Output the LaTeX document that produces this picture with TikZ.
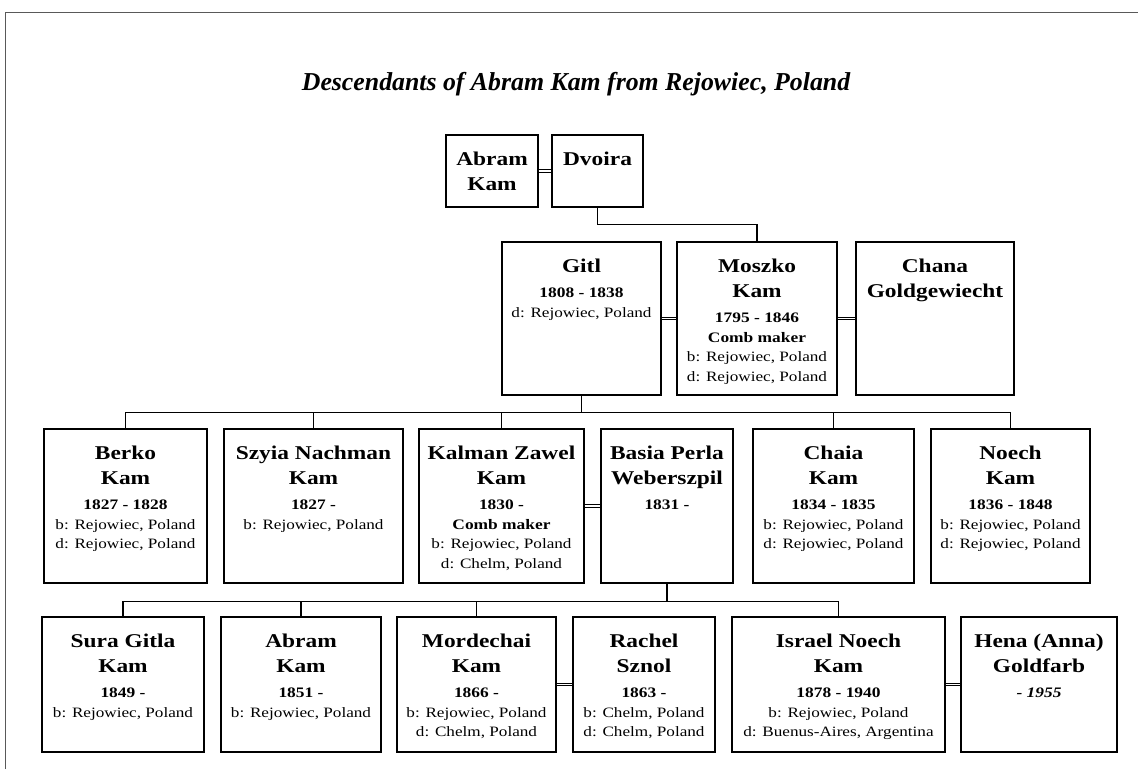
\documentclass[tikz,border=0pt]{standalone}
\usepackage{fontspec}
\usetikzlibrary{calc}
\setmainfont{Liberation Serif}
\newfontfamily\boxfont[FakeStretch=1.2]{Liberation Serif}
\newcommand\nm[1]{{\fontsize{19.5}{19.5}\selectfont\bfseries #1}}
\newcommand\dt[1]{{\fontsize{14.5}{19.5}\selectfont\bfseries #1}}
\newcommand\st{\rule{0pt}{20pt}}
\newcommand\pbox[6]{%
  \node[pbox, minimum width={#4-#2}, minimum height={#5-#3}] (#1) at ({(#2+#4)/2},{(#3+#5)/2}) {};
  \node[ptext] (#1-t) at ([yshift=-11pt]#1.north) {\st #6};
}
\tikzset{
  pbox/.style={draw, line width=1.2pt, inner sep=0pt, rectangle},
  ptext/.style={anchor=north, align=center, inner sep=0pt, font=\boxfont\fontsize{14.3}{19.5}\selectfont},
  link/.style={line width=1.2pt},
  wed/.style={double, line width=1.1pt, double distance=1.6pt},
  frame/.style={line width=0.8pt, black!65}
}
\begin{document}
\begin{tikzpicture}[x=1pt,y=-1pt]
\useasboundingbox (0,0) rectangle (1138,769);
\coordinate (fa) at (5,769);
\coordinate (fb) at (5,12);
\coordinate (fc) at (1138,12);
\draw[frame] (fa) -- (fb) -- (fc);

\node[anchor=base, font=\fontsize{25.8}{30}\selectfont\bfseries\itshape] (title) at (576,90) {Descendants of Abram Kam from Rejowiec, Poland};

% generation 1
\pbox{abramA}{446}{135}{538}{207}{\nm{Abram}\\[5.5pt]\nm{Kam}}
\pbox{dvoira}{552}{135}{643}{207}{\nm{Dvoira}}
% generation 2
\pbox{gitl}{502}{242}{661}{395}{\nm{Gitl}\\[5.5pt]\dt{1808 - 1838}\\d: Rejowiec, Poland}
\pbox{moszko}{677}{242}{837}{395}{\nm{Moszko}\\[5.5pt]\nm{Kam}\\[5.5pt]\dt{1795 - 1846}\\\dt{Comb maker}\\b: Rejowiec, Poland\\d: Rejowiec, Poland}
\pbox{chana}{856}{242}{1014}{395}{\nm{Chana}\\[5.5pt]\nm{Goldgewiecht}}
% generation 3
\pbox{berko}{44}{429}{207}{583}{\nm{Berko}\\[5.5pt]\nm{Kam}\\[5.5pt]\dt{1827 - 1828}\\b: Rejowiec, Poland\\d: Rejowiec, Poland}
\pbox{szyia}{224}{429}{403}{583}{\nm{Szyia Nachman}\\[5.5pt]\nm{Kam}\\[5.5pt]\dt{1827 -}\\b: Rejowiec, Poland}
\pbox{kalman}{419}{429}{584}{583}{\nm{Kalman Zawel}\\[5.5pt]\nm{Kam}\\[5.5pt]\dt{1830 -}\\\dt{Comb maker}\\b: Rejowiec, Poland\\d: Chelm, Poland}
\pbox{basia}{601}{429}{733}{583}{\nm{Basia Perla}\\[5.5pt]\nm{Weberszpil}\\[5.5pt]\dt{1831 -}}
\pbox{chaia}{753}{429}{914}{583}{\nm{Chaia}\\[5.5pt]\nm{Kam}\\[5.5pt]\dt{1834 - 1835}\\b: Rejowiec, Poland\\d: Rejowiec, Poland}
\pbox{noech}{931}{429}{1090}{583}{\nm{Noech}\\[5.5pt]\nm{Kam}\\[5.5pt]\dt{1836 - 1848}\\b: Rejowiec, Poland\\d: Rejowiec, Poland}
% generation 4
\pbox{sura}{42}{617}{204}{752}{\nm{Sura Gitla}\\[5.5pt]\nm{Kam}\\[5.5pt]\dt{1849 -}\\b: Rejowiec, Poland}
\pbox{abramB}{221}{617}{381}{752}{\nm{Abram}\\[5.5pt]\nm{Kam}\\[5.5pt]\dt{1851 -}\\b: Rejowiec, Poland}
\pbox{mordechai}{397}{617}{556}{752}{\nm{Mordechai}\\[5.5pt]\nm{Kam}\\[5.5pt]\dt{1866 -}\\b: Rejowiec, Poland\\d: Chelm, Poland}
\pbox{rachel}{573}{617}{715}{752}{\nm{Rachel}\\[5.5pt]\nm{Sznol}\\[5.5pt]\dt{1863 -}\\b: Chelm, Poland\\d: Chelm, Poland}
\pbox{israel}{732}{617}{945}{752}{\nm{Israel Noech}\\[5.5pt]\nm{Kam}\\[5.5pt]\dt{1878 - 1940}\\b: Rejowiec, Poland\\d: Buenus-Aires, Argentina}
\pbox{hena}{961}{617}{1117}{752}{\nm{Hena (Anna)}\\[5.5pt]\nm{Goldfarb}\\[5.5pt]{\fontsize{14.5}{19.5}\selectfont\bfseries\itshape - 1955}}

% marriages
\draw[wed] (abramA.east) -- (dvoira.west);
\draw[wed] (gitl.east) -- (moszko.west);
\draw[wed] (moszko.east) -- (chana.west);
\draw[wed] (kalman.east) -- (basia.west);
\draw[wed] (mordechai.east) -- (rachel.west);
\draw[wed] (israel.east) -- (hena.west);

% descent
\draw[link] (dvoira.south) -- ++(0,17) -| (moszko.north);
\coordinate (busA) at ($(gitl.south)+(0,17)$);
\draw[link] (gitl.south) -- (busA);
\foreach \c in {berko,szyia,kalman,chaia,noech}
  \draw[link] (\c.north) |- (busA);
\coordinate (busB) at ($(basia.south)+(0,18)$);
\draw[link] (basia.south) -- (busB);
\foreach \c in {sura,abramB,mordechai,israel}
  \draw[link] (\c.north) |- (busB);
\end{tikzpicture}
\end{document}
